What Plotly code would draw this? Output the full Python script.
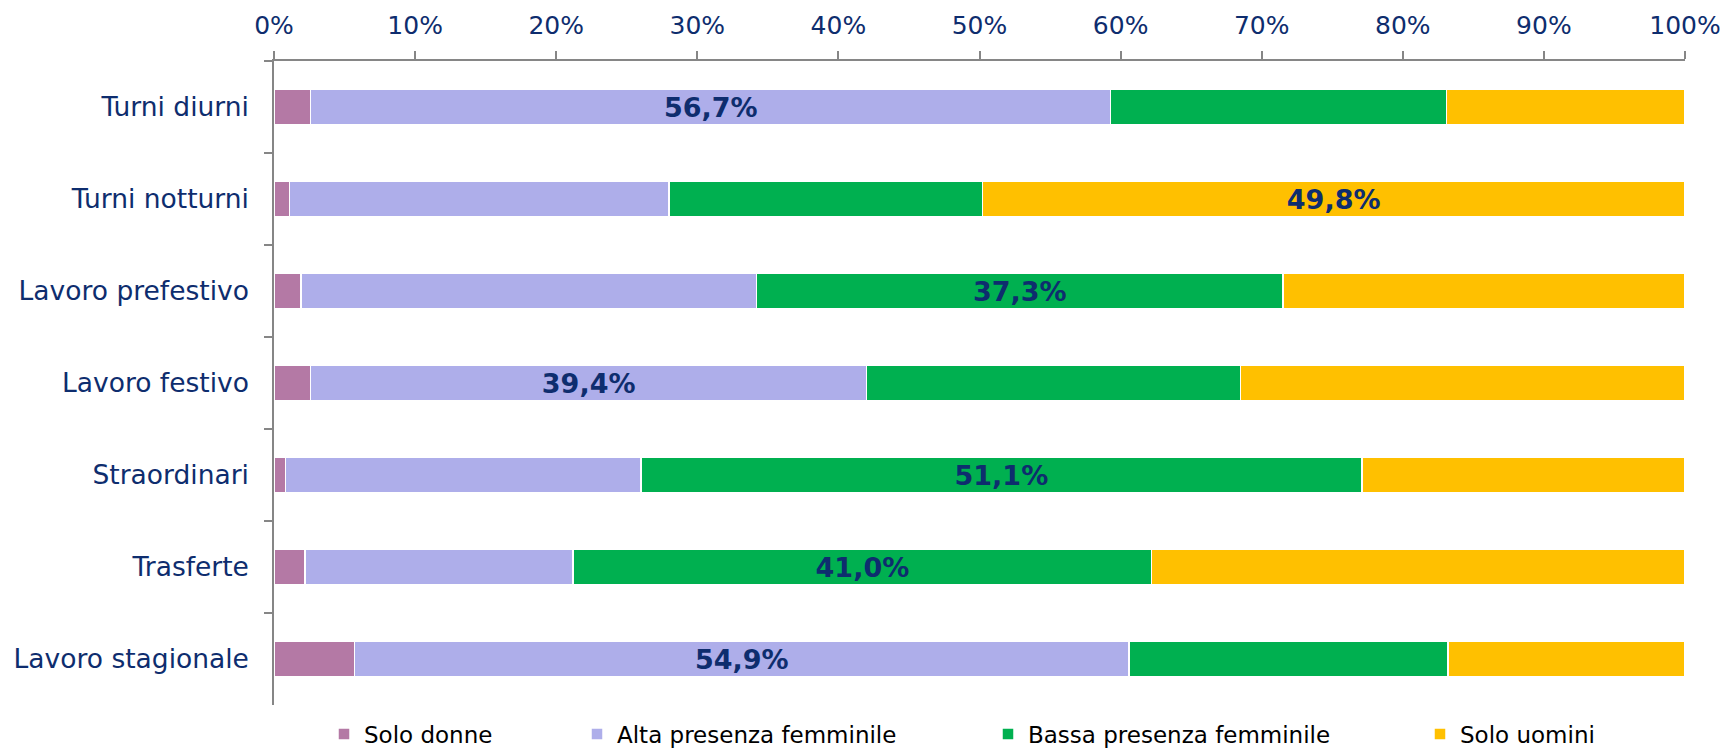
import plotly.graph_objects as go

categories = [
    "Turni diurni",
    "Turni notturni",
    "Lavoro prefestivo",
    "Lavoro festivo",
    "Straordinari",
    "Trasferte",
    "Lavoro stagionale",
]

solo_donne = [2.6, 1.1, 1.9, 2.6, 0.8, 2.2, 5.7]
alta_presenza = [56.7, 26.9, 32.3, 39.4, 25.2, 19.0, 54.9]
bassa_presenza = [23.8, 22.2, 37.3, 26.5, 51.1, 41.0, 22.6]
solo_uomini = [16.9, 49.8, 28.5, 31.5, 22.9, 37.8, 16.8]

series_names = [
    "Solo donne",
    "Alta presenza femminile",
    "Bassa presenza femminile",
    "Solo uomini",
]
series_values = [solo_donne, alta_presenza, bassa_presenza, solo_uomini]
colors = ["#b479a5", "#aeaeea", "#00b050", "#ffc000"]

x_ticks = list(range(0, 101, 10))

NAVY = "#0e2d6e"
AXIS_GREY = "#868686"

# only the biggest segment of each row gets a label
row_max = [max(vals) for vals in zip(*series_values)]

fig = go.Figure()
legend_ids = ["legend", "legend2", "legend3", "legend4"]
for name, vals, col, leg in zip(series_names, series_values, colors, legend_ids):
    labels = [
        (f"{v:.1f}%".replace(".", ",") if v == m else "")
        for v, m in zip(vals, row_max)
    ]
    fig.add_trace(
        go.Bar(
            y=categories,
            x=vals,
            name=name,
            orientation="h",
            marker=dict(color=col, line=dict(color="white", width=1.5)),
            text=labels,
            textposition="inside",
            insidetextanchor="middle",
            textangle=0,
            textfont=dict(family="DejaVu Sans", size=27, color=NAVY, weight="bold"),
            legend=leg,
            showlegend=True,
            hoverinfo="skip",
        )
    )

# page body has the browser's default 8px margin, so shift everything by it
OFF = 8
W, H = 1735 - OFF, 748 - OFF
plot_left, plot_right = 274 - OFF, 1685 - OFF
plot_top, plot_bottom = 61 - OFF, 705 - OFF

legend_text_starts = [364, 617, 1028, 1460]
legend_y = 734 - OFF
legend_font = dict(family="DejaVu Sans", size=23, color="black")
legend_layout = {}
for leg, start in zip(legend_ids, legend_text_starts):
    legend_layout[leg] = dict(
        xref="container",
        yref="container",
        x=(start - OFF - 40) / W,
        xanchor="left",
        y=1 - legend_y / H,
        yanchor="middle",
        orientation="h",
        font=legend_font,
        itemwidth=30,
        bgcolor="rgba(0,0,0,0)",
    )

fig.update_layout(
    barmode="stack",
    bargap=0.61,
    width=W,
    height=H,
    showlegend=True,
    margin=dict(
        l=plot_left, r=W - plot_right, t=plot_top, b=H - plot_bottom, pad=0,
        autoexpand=False,
    ),
    paper_bgcolor="white",
    plot_bgcolor="white",
    font=dict(family="DejaVu Sans", size=25, color=NAVY),
    uniformtext=dict(minsize=27, mode="show"),
    **legend_layout,
)

fig.update_xaxes(
    side="top",
    range=[0, 100],
    tickvals=x_ticks,
    ticktext=[f"{t}%" for t in x_ticks],
    showgrid=False,
    zeroline=False,
    showline=True,
    linecolor=AXIS_GREY,
    linewidth=1.5,
    ticks="outside",
    ticklen=8,
    tickwidth=1.5,
    tickcolor=AXIS_GREY,
    tickfont=dict(family="DejaVu Sans", size=25, color=NAVY),
    ticklabelstandoff=7,
    automargin=False,
)
fig.update_yaxes(
    autorange="reversed",
    showgrid=False,
    zeroline=False,
    showline=True,
    linecolor=AXIS_GREY,
    linewidth=1.5,
    ticks="outside",
    tickson="boundaries",
    ticklen=8,
    tickwidth=1.5,
    tickcolor=AXIS_GREY,
    tickfont=dict(family="DejaVu Sans", size=26.5, color=NAVY),
    ticklabelstandoff=18,
    automargin=False,
)

fig.write_html("out.html")
